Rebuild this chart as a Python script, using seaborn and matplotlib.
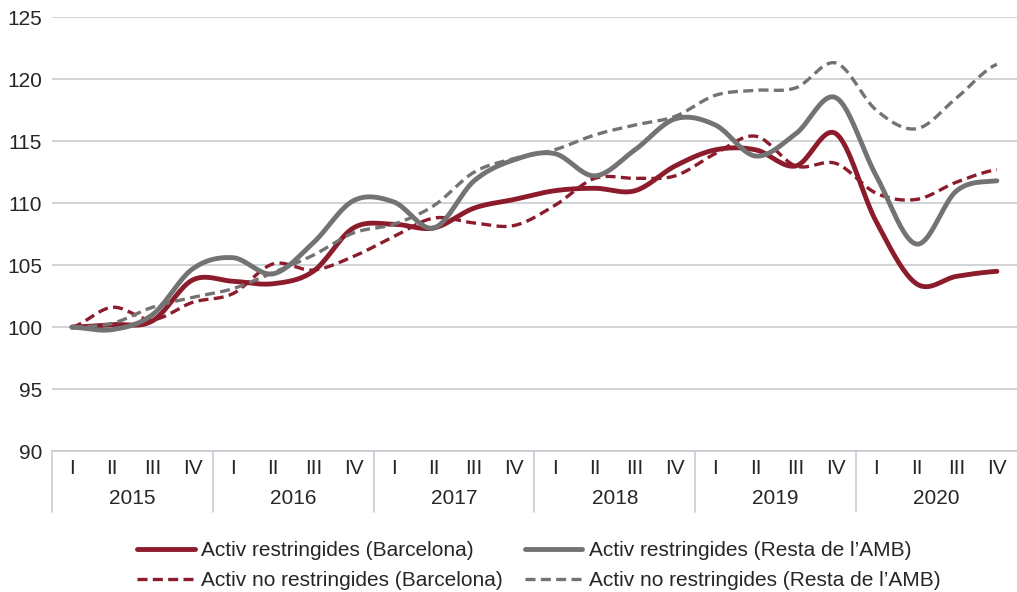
import numpy as np
import pandas as pd
import matplotlib
matplotlib.use('Agg')
import matplotlib.pyplot as plt
import seaborn as sns

years = ['2015', '2016', '2017', '2018', '2019', '2020']
quarters = ['I', 'II', 'III', 'IV']

restr_bcn = [100.0, 100.2, 100.5, 103.8, 103.7, 103.5, 104.5, 108.0,
             108.3, 108.0, 109.6, 110.3, 111.0, 111.2, 111.0, 113.0,
             114.3, 114.3, 113.0, 115.6, 108.5, 103.5, 104.1, 104.5]
restr_amb = [100.0, 99.8, 101.0, 104.7, 105.6, 104.3, 106.8, 110.2,
             110.1, 108.0, 111.8, 113.5, 114.0, 112.2, 114.3, 116.8,
             116.3, 113.8, 115.6, 118.5, 112.2, 106.7, 111.0, 111.8]
norestr_bcn = [100.0, 101.6, 100.6, 102.0, 102.7, 105.1, 104.6, 105.7,
               107.3, 108.8, 108.4, 108.2, 109.8, 112.0, 112.0, 112.2,
               114.0, 115.4, 113.0, 113.2, 110.8, 110.3, 111.7, 112.7]
norestr_amb = [100.0, 100.3, 101.6, 102.4, 103.1, 104.4, 105.8, 107.6,
               108.3, 109.8, 112.5, 113.6, 114.3, 115.5, 116.3, 117.0,
               118.7, 119.1, 119.3, 121.3, 117.5, 116.0, 118.5, 121.2]

names = ['Activ restringides (Barcelona)',
         'Activ no restringides (Barcelona)',
         'Activ restringides (Resta de l\u2019AMB)',
         'Activ no restringides (Resta de l\u2019AMB)']
series = [restr_bcn, norestr_bcn, restr_amb, norestr_amb]

red = '#8c1c2c'
grey = '#737373'
colors = [red, red, grey, grey]
dashed = [False, True, False, True]


def smooth(y, n=20):
    # Catmull-Rom curve through the points, like a smoothed spreadsheet line
    y = np.asarray(y, dtype=float)
    x = np.arange(len(y), dtype=float)
    px = np.concatenate([[2 * x[0] - x[1]], x, [2 * x[-1] - x[-2]]])
    py = np.concatenate([[y[0]], y, [y[-1]]])
    xs, ys = [], []
    t = np.linspace(0, 1, n, endpoint=False)
    for i in range(1, len(px) - 2):
        p0, p1, p2, p3 = py[i - 1], py[i], py[i + 1], py[i + 2]
        q0, q1, q2, q3 = px[i - 1], px[i], px[i + 1], px[i + 2]
        for a, b, c, d, out in ((q0, q1, q2, q3, xs), (p0, p1, p2, p3, ys)):
            out.extend(0.5 * (2 * b + (-a + c) * t + (2 * a - 5 * b + 4 * c - d) * t ** 2
                              + (-a + 3 * b - 3 * c + d) * t ** 3))
    xs.append(x[-1])
    ys.append(y[-1])
    return np.array(xs), np.array(ys)


sns.set_style('white')
plt.rcParams['font.family'] = ['Liberation Sans', 'DejaVu Sans']

fig = plt.figure(figsize=(10.17, 5.92), dpi=100)
ax = fig.add_axes([0.051, 0.238, 0.949, 0.733])

for vals, name, col, dsh in zip(series, names, colors, dashed):
    sx, sy = smooth(vals)
    df = pd.DataFrame({'x': sx, 'y': sy})
    if dsh:
        sns.lineplot(data=df, x='x', y='y', ax=ax, color=col, lw=2.4,
                     sort=False, label=name, linestyle=(0, (3, 1.6)))
    else:
        sns.lineplot(data=df, x='x', y='y', ax=ax, color=col, lw=3.5,
                     sort=False, label=name)

ax.set_xlim(-0.5, 23.5)
ax.set_ylim(90, 125)
ax.set_yticks(range(90, 126, 5))
ax.yaxis.grid(True, color='#c3c9cf', lw=1.1)
ax.set_axisbelow(True)
for s in ['top', 'right', 'left']:
    ax.spines[s].set_visible(False)
ax.spines['bottom'].set_color('#c3c9cf')
ax.spines['bottom'].set_linewidth(1.1)
ax.tick_params(axis='y', length=0, labelsize=15, pad=7)
ax.set_xticks(range(24))
ax.set_xticklabels(quarters * len(years), fontsize=15)
ax.tick_params(axis='x', length=0, pad=6)
ax.set_xlabel('')
ax.set_ylabel('')

for i, yr in enumerate(years):
    ax.text(i * 4 + 1.5, -0.11, yr, transform=ax.get_xaxis_transform(),
            ha='center', va='center', fontsize=15)
    ax.plot([i * 4 - 0.5, i * 4 - 0.5], [0, -0.14], transform=ax.get_xaxis_transform(),
            color='#c3c9cf', lw=1.1, clip_on=False)

handles, labels = ax.get_legend_handles_labels()
ax.get_legend().remove()
fig.legend(handles, labels, ncol=2, loc='lower center', bbox_to_anchor=(0.53, -0.028),
           frameon=False, fontsize=15, handlelength=2.75, handletextpad=0.33,
           columnspacing=1.05, labelspacing=0.5)

fig.savefig('out.png', dpi=100)
